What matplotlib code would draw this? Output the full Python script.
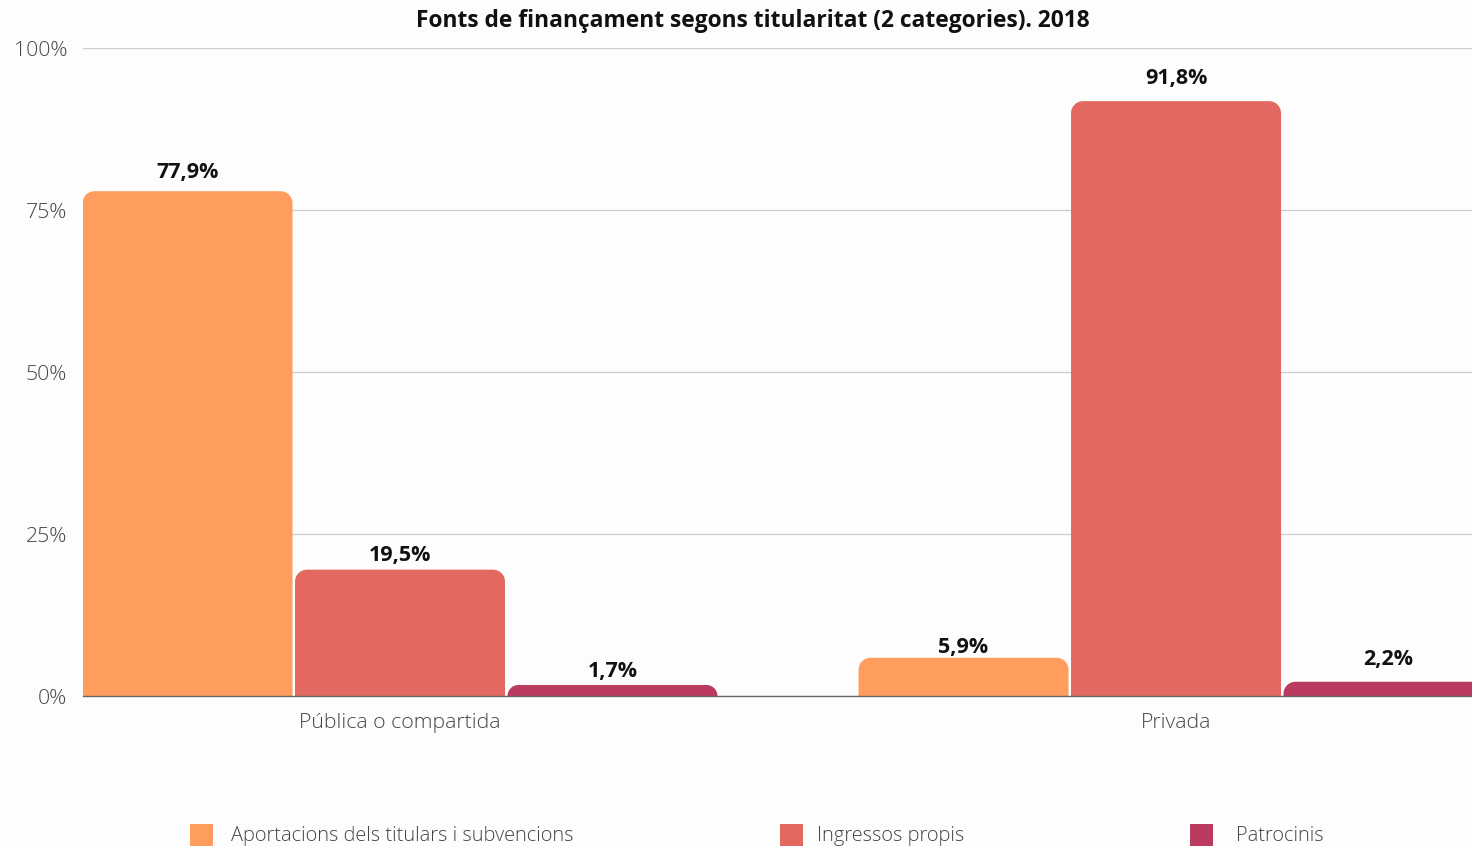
import matplotlib
matplotlib.use("Agg")
import matplotlib.pyplot as plt
from matplotlib.path import Path
from matplotlib.patches import PathPatch, Rectangle
import numpy as np

plt.rcParams['font.family'] = ['Open Sans', 'DejaVu Sans']

title = "Fonts de finançament segons titularitat (2 categories). 2018"
categories = ["Pública o compartida", "Privada"]
series_names = ["Aportacions dels titulars i subvencions", "Ingressos propis", "Patrocinis"]
series_values = [
    [77.9, 5.9],
    [19.5, 91.8],
    [1.7, 2.2],
]
colors = ["#FF9D5E", "#E3685F", "#BB3A60"]
yticks = [0, 25, 50, 75, 100]

W, H = 1472, 846
fig = plt.figure(figsize=(W / 100, H / 100), dpi=100)
fig.patch.set_facecolor("#FDFDFD")
ax = fig.add_axes([83 / W, (H - 696) / H, 1 - 83 / W, (696 - 48) / H])
ax.set_facecolor("#FDFDFD")

x = np.arange(len(categories))
step = 0.2738
width = 0.2706
ax.set_xlim(-0.4085, 1.3814)
ax.set_ylim(0, 100)

fig.canvas.draw()
bbox = ax.get_window_extent()
px_per_x = bbox.width / (1.3814 + 0.4085)
px_per_y = bbox.height / 100.0
r_px = 12

# label vertical offsets (points above bar top), per series / category
label_offsets = [[9.5, 3.7], [5.9, 12.4], [5.9, 12.4]]

for i, (name, vals, col) in enumerate(zip(series_names, series_values, colors)):
    bars = ax.bar(x + (i - 1) * step, vals, width, color=col, label=name)
    for j, (b, v) in enumerate(zip(bars, vals)):
        b.set_visible(False)
        x0, w, h = b.get_x(), b.get_width(), b.get_height()
        r = min(r_px, h * px_per_y)
        rx, ry = r / px_per_x, r / px_per_y
        k = 0.5523
        verts = [
            (x0, 0), (x0, h - ry),
            (x0, h - ry + k * ry), (x0 + rx - k * rx, h), (x0 + rx, h),
            (x0 + w - rx, h),
            (x0 + w - rx + k * rx, h), (x0 + w, h - ry + k * ry), (x0 + w, h - ry),
            (x0 + w, 0), (x0, 0),
        ]
        codes = [Path.MOVETO, Path.LINETO,
                 Path.CURVE4, Path.CURVE4, Path.CURVE4,
                 Path.LINETO,
                 Path.CURVE4, Path.CURVE4, Path.CURVE4,
                 Path.LINETO, Path.CLOSEPOLY]
        ax.add_patch(PathPatch(Path(verts, codes), facecolor=col, edgecolor="none", zorder=3))
        ax.annotate(f"{v:.1f}".replace(".", ",") + "%", (x0 + w / 2, h),
                    xytext=(0, label_offsets[i][j]), textcoords="offset points",
                    ha="center", va="baseline", fontsize=15.5, fontweight="bold",
                    color="#111111", zorder=4)

ax.set_yticks(yticks)
ax.set_yticklabels([f"{t}%" for t in yticks])
ax.yaxis.grid(True, color="#CCCCCC", linewidth=0.9)
ax.set_axisbelow(True)
ax.set_xticks(x)
ax.set_xticklabels(categories)
ax.tick_params(axis="both", length=0, labelsize=15.3, labelcolor="#444444")
ax.tick_params(axis="y", pad=11.5)
ax.tick_params(axis="x", pad=12)
for lab in ax.get_xticklabels() + ax.get_yticklabels():
    lab.set_fontweight("light")
for s in ["top", "right", "left"]:
    ax.spines[s].set_visible(False)
ax.spines["bottom"].set_color("#666666")
ax.spines["bottom"].set_linewidth(1)
ax.spines["bottom"].set_zorder(5)

fig.text(753 / W, 1 - 21 / H, title, ha="center", va="center",
         fontsize=16.4, fontweight="bold", color="#111111")

leg_x = [190, 780, 1190]
leg_tx = [231, 817, 1236]
for hx, tx, c, n in zip(leg_x, leg_tx, colors, series_names):
    fig.add_artist(Rectangle((hx / W, (H - 846) / H), 23 / W, 22 / H,
                             transform=fig.transFigure, facecolor=c, edgecolor="none"))
    fig.text(tx / W, (H - 836) / H, n, ha="left", va="center", fontsize=14.4,
             fontweight="light", color="#444444")

fig.savefig("out.png", dpi=100, facecolor=fig.get_facecolor())
